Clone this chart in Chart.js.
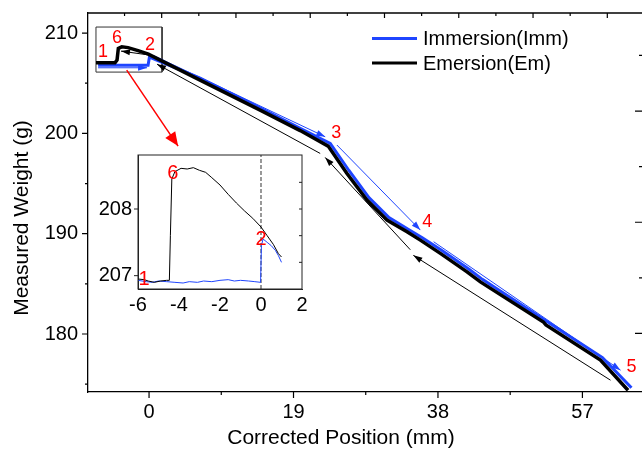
<!DOCTYPE html>
<html>
<head>
<meta charset="utf-8">
<script src="https://cdn.jsdelivr.net/npm/chart.js@4.4.1/dist/chart.umd.min.js"></script>
<style>
    html, body { margin: 0; padding: 0; background: #fff; overflow: hidden; width: 642px; height: 457px; }
    #grafico-principal { position: absolute; left: 0; top: 0; }
    #grafico-detalle { position: absolute; left: 95px; top: 145px; }
</style>
</head>
<body>
<canvas id="grafico-principal" width="660" height="457"></canvas>
<canvas id="grafico-detalle" width="220" height="172"></canvas>
<script>
// ===========================================================
// datos (posicion en mm, peso en g)
// ===========================================================

// curva de inmersion (azul), grafico principal
const inmersion_x = [-6.7, -0.13, 0.05, 6.71, 14.61, 19.88, 23.83, 26.29, 28.92, 31.56, 34.19, 35.94, 38.57, 42.09, 43.84, 52.13, 59.64, 63.45];
const inmersion_y = [206.8, 206.8, 207.6, 205.5, 202.55, 200.5, 199.0, 196.3, 193.6, 191.6, 190.4, 189.6, 188.3, 186.45, 185.45, 181.35, 177.65, 174.65];

// curva de emersion (negra), grafico principal
const emersion_x = [-6.98, -4.48, -4.21, -4.04, -3.59, -2.76, -1.45, -0.09, 6.71, 14.61, 19.88, 23.56, 26.03, 28.66, 31.29, 33.93, 35.68, 38.31, 41.82, 43.58, 51.87, 52.2, 59.37, 63.0];
const emersion_y = [207.04, 207.04, 207.31, 208.47, 208.63, 208.55, 208.25, 207.9, 205.31, 202.32, 200.28, 198.73, 196.0, 193.35, 191.36, 190.19, 189.36, 188.04, 186.2, 185.2, 181.2, 180.9, 177.4, 174.4];

// detalle (recuadro): emersion
const detalle_em_x = [-6, -5.7, -5.5, -5.2, -4.9, -4.6, -4.47, -4.42, -4.35, -4.2, -3.9, -3.6, -3.3, -3.0, -2.7, -2.4, -2.0, -1.6, -1.2, -0.8, -0.4, 0, 0.3, 0.6, 0.85, 1.0];
const detalle_em_y = [206.95, 206.94, 206.92, 206.9, 206.92, 206.93, 206.93, 207.6, 208.45, 208.56, 208.61, 208.6, 208.62, 208.58, 208.55, 208.47, 208.36, 208.22, 208.09, 207.97, 207.86, 207.73, 207.6, 207.47, 207.33, 207.28];

// detalle (recuadro): inmersion
const detalle_in_x = [-6, -5.6, -5.3, -5.0, -4.6, -4.2, -3.8, -3.5, -3.1, -2.8, -2.4, -2.0, -1.6, -1.3, -1.0, -0.6, -0.3, -0.02, 0.02, 0.1, 0.3, 0.5, 0.7, 0.85, 1.0];
const detalle_in_y = [206.93, 206.91, 206.9, 206.92, 206.91, 206.9, 206.89, 206.91, 206.9, 206.92, 206.91, 206.93, 206.94, 206.92, 206.93, 206.92, 206.91, 206.9, 207.45, 207.55, 207.5, 207.45, 207.38, 207.3, 207.2];

// flechas que indican el sentido del recorrido: [x0, y0, x1, y1]
const flechas_azules = [
    [-6.71, 206.54, -0.26, 206.54],
    [0.66, 207.74, 23.17, 199.66],
    [24.71, 198.84, 35.68, 190.36],
    [37.43, 189.2, 62.01, 176.4]
];
const flechas_negras = [
    [60.69, 175.4, 34.76, 187.84],
    [34.36, 188.4, 23.17, 197.6],
    [22.51, 198.0, 1.05, 206.9],
    [0.13, 207.8, -3.69, 208.2]
];
const flecha_roja = [-2.94, 206.31, 3.82, 198.73];

// recuadro que marca la zona ampliada: [x0, y0, x1, y1]
const zona_ampliada = [-6.98, 210.6, 1.71, 206.11];

// numeros rojos de los puntos del recorrido
const etiquetas_puntos = ['1', '6', '2', '3', '4', '5'];
const etiquetas_x = [-6.06, -4.21, 0.13, 24.62, 36.6, 63.45];
const etiquetas_y = [208.1, 209.5, 208.8, 200.0, 191.15, 176.7];

const etiquetas_detalle = ['1', '6', '2'];
const etiquetas_detalle_x = [-5.7, -4.3, 0];
const etiquetas_detalle_y = [206.94, 208.54, 207.54];

// marcas de los ejes
const ticks_x = [0, 19, 38, 57];
const ticks_y = [180, 190, 200, 210];
const ticks_detalle_x = [-6, -4, -2, 0, 2];
const ticks_detalle_y = [207, 208];

const nombres_series = ['Immersion(Imm)', 'Emersion(Em)'];

// colores
const azul = '#1f45ff';
const negro = '#000000';
const rojo = '#ff0000';
const fuente = '"Liberation Sans", Arial, sans-serif';

// -----------------------------------------------------------
// ayudas
// -----------------------------------------------------------
function puntos(xs, ys) {
    return xs.map((x, i) => ({ x: x, y: ys[i] }));
}

function serie_linea(datos, color, ancho, orden, extra) {
    return Object.assign({
        data: datos,
        borderColor: color,
        backgroundColor: color,
        borderWidth: ancho,
        pointRadius: 0,
        tension: 0,
        fill: false,
        order: orden
    }, extra || {});
}

// quita el margen que chart.js reserva para media etiqueta en los extremos
function sin_relleno(s) {
    s.paddingTop = 0;
    s.paddingBottom = 0;
    s.paddingLeft = 0;
    s.paddingRight = 0;
}

// dibuja marcas cortas sobre un eje (hacia afuera o hacia adentro)
function marcas(ctx, escala, valores, largo, base, dir, vertical) {
    ctx.beginPath();
    valores.forEach(v => {
        const p = escala.getPixelForValue(v);
        if (vertical) {
            ctx.moveTo(base, p);
            ctx.lineTo(base + dir * largo, p);
        } else {
            ctx.moveTo(p, base);
            ctx.lineTo(p, base + dir * largo);
        }
    });
    ctx.stroke();
}

// plugin: puntas de flecha al final de las series marcadas con "punta"
const plugin_flechas = {
    id: 'flechas',
    afterDatasetsDraw(chart) {
        const ctx = chart.ctx;
        chart.data.datasets.forEach((ds, i) => {
            if (!ds.punta) return;
            const pts = chart.getDatasetMeta(i).data;
            const a = pts[pts.length - 2], b = pts[pts.length - 1];
            const ang = Math.atan2(b.y - a.y, b.x - a.x);
            ctx.save();
            ctx.translate(b.x, b.y);
            ctx.rotate(ang);
            ctx.fillStyle = ds.borderColor;
            ctx.beginPath();
            ctx.moveTo(0, 0);
            ctx.lineTo(-ds.punta[0], ds.punta[1] / 2);
            ctx.lineTo(-ds.punta[0], -ds.punta[1] / 2);
            ctx.closePath();
            ctx.fill();
            ctx.restore();
        });
    }
};

// -----------------------------------------------------------
// grafico principal
// -----------------------------------------------------------
const series_principal = [
    serie_linea(puntos(emersion_x, emersion_y), negro, 3.5, 0),
    serie_linea(puntos(inmersion_x, inmersion_y), azul, 3, 1)
];
flechas_azules.forEach(f => series_principal.push(
    serie_linea([{ x: f[0], y: f[1] }, { x: f[2], y: f[3] }], azul, 1, 2, { punta: [9, 6] })));
flechas_negras.forEach(f => series_principal.push(
    serie_linea([{ x: f[0], y: f[1] }, { x: f[2], y: f[3] }], negro, 1, 2, { punta: [9, 6] })));
series_principal.push(serie_linea(
    [{ x: flecha_roja[0], y: flecha_roja[1] }, { x: flecha_roja[2], y: flecha_roja[3] }],
    rojo, 1.5, 3, { punta: [14, 12] }));
series_principal.push(serie_linea([
    { x: zona_ampliada[0], y: zona_ampliada[1] }, { x: zona_ampliada[2], y: zona_ampliada[1] },
    { x: zona_ampliada[2], y: zona_ampliada[3] }, { x: zona_ampliada[0], y: zona_ampliada[3] },
    { x: zona_ampliada[0], y: zona_ampliada[1] }], '#333', 1, 4));

const plugin_principal = {
    id: 'marco_principal',
    afterDraw(chart) {
        const ctx = chart.ctx;
        const a = chart.chartArea;
        const sx = chart.scales.x, sy = chart.scales.y;
        const sx2 = chart.scales.x2, sy2 = chart.scales.y2;
        ctx.save();
        ctx.strokeStyle = '#000';
        ctx.lineWidth = 1.3;
        // linea superior del marco
        ctx.beginPath();
        ctx.moveTo(a.left, a.top);
        ctx.lineTo(a.right, a.top);
        ctx.stroke();
        ctx.lineWidth = 1.2;
        // eje izquierdo y eje inferior: marcas hacia afuera
        marcas(ctx, sy, ticks_y, 6, a.left, -1, true);
        marcas(ctx, sy, [175, 185, 195, 205], 3, a.left, -1, true);
        marcas(ctx, sx, ticks_x, 6, a.bottom, 1, false);
        marcas(ctx, sx, [9.5, 28.5, 47.5], 3, a.bottom, 1, false);
        // eje superior y eje derecho: marcas hacia adentro
        marcas(ctx, sx2, [0, 10, 20, 30, 40, 50, 60], 5, a.top, 1, false);
        marcas(ctx, sx2, [-5, 5, 15, 25, 35, 45, 55], 3, a.top, 1, false);
        marcas(ctx, sy2, [10, 20, 30], 7, a.right - 2, -1, true);
        marcas(ctx, sy2, [15, 25, 35], 3, a.right - 2, -1, true);

        // numeros rojos
        ctx.fillStyle = rojo;
        ctx.font = '18px ' + fuente;
        ctx.textAlign = 'center';
        ctx.textBaseline = 'middle';
        etiquetas_puntos.forEach((t, i) => {
            ctx.fillText(t, sx.getPixelForValue(etiquetas_x[i]), sy.getPixelForValue(etiquetas_y[i]));
        });

        // leyenda
        ctx.font = '20px ' + fuente;
        ctx.textAlign = 'left';
        [azul, negro].forEach((c, i) => {
            const yy = 38.5 + i * 24.5;
            ctx.strokeStyle = c;
            ctx.lineWidth = 3;
            ctx.beginPath();
            ctx.moveTo(372, yy);
            ctx.lineTo(417, yy);
            ctx.stroke();
            ctx.fillStyle = '#000';
            ctx.fillText(nombres_series[i], 423, yy + 1);
        });

        // titulos de los ejes
        ctx.font = '21px ' + fuente;
        ctx.textAlign = 'center';
        ctx.fillText('Corrected Position (mm)', 341, 438);
        ctx.translate(22, 218);
        ctx.rotate(-Math.PI / 2);
        ctx.fillText('Measured Weight (g)', 0, 0);
        ctx.restore();
    }
};

new Chart(document.getElementById('grafico-principal').getContext('2d'), {
    type: 'line',
    data: { datasets: series_principal },
    options: {
        responsive: false,
        animation: false,
        layout: { padding: { top: 13, right: 16, left: 0, bottom: 0 } },
        plugins: { legend: { display: false }, tooltip: { enabled: false } },
        scales: {
            x: {
                type: 'linear', min: -8.03, max: 65.1,
                afterFit: s => { s.height = 65; sin_relleno(s); },
                afterBuildTicks: s => { s.ticks = ticks_x.map(v => ({ value: v })); },
                grid: { display: false, drawTicks: false },
                border: { display: true, color: '#000', width: 1.3 },
                ticks: { color: '#000', padding: 8, font: { size: 20, family: fuente } }
            },
            y: {
                type: 'linear', min: 174.22, max: 212.0,
                afterFit: s => { s.width = 88; sin_relleno(s); },
                afterBuildTicks: s => { s.ticks = ticks_y.map(v => ({ value: v })); },
                grid: { display: false, drawTicks: false },
                border: { display: true, color: '#000', width: 1.3 },
                ticks: { color: '#000', padding: 10, font: { size: 20, family: fuente } }
            },
            // ejes auxiliares solo para las marcas de arriba y de la derecha
            x2: { type: 'linear', position: 'top', display: false, min: -9.92, max: 64.94 },
            y2: { type: 'linear', position: 'right', display: false, min: 4.73, max: 38.82 }
        }
    },
    plugins: [plugin_flechas, plugin_principal]
});

// -----------------------------------------------------------
// grafico de detalle (recuadro ampliado)
// -----------------------------------------------------------
const plugin_detalle = {
    id: 'marco_detalle',
    afterDraw(chart) {
        const ctx = chart.ctx;
        const a = chart.chartArea;
        const sx = chart.scales.x, sy = chart.scales.y;
        ctx.save();
        ctx.strokeStyle = '#222';
        ctx.lineWidth = 1;
        ctx.strokeRect(a.left, a.top, a.right - a.left, a.bottom - a.top);
        marcas(ctx, sy, ticks_detalle_y, 4, a.left, -1, true);
        marcas(ctx, sy, [207.2, 207.6, 208.0, 208.4], 3, a.right, -1, true);
        ctx.fillStyle = rojo;
        ctx.font = '20px ' + fuente;
        ctx.textAlign = 'center';
        ctx.textBaseline = 'middle';
        etiquetas_detalle.forEach((t, i) => {
            ctx.fillText(t, sx.getPixelForValue(etiquetas_detalle_x[i]), sy.getPixelForValue(etiquetas_detalle_y[i]));
        });
        ctx.restore();
    }
};

new Chart(document.getElementById('grafico-detalle').getContext('2d'), {
    type: 'line',
    data: {
        datasets: [
            serie_linea([{ x: 0, y: 206.8 }, { x: 0, y: 208.81 }], '#555', 1.2, 2, { borderDash: [4, 2] }),
            serie_linea(puntos(detalle_em_x, detalle_em_y), negro, 1, 0),
            serie_linea(puntos(detalle_in_x, detalle_in_y), azul, 1, 1)
        ]
    },
    options: {
        responsive: false,
        animation: false,
        layout: { padding: { top: 10, right: 13, left: 0, bottom: 0 } },
        plugins: { legend: { display: false }, tooltip: { enabled: false } },
        scales: {
            x: {
                type: 'linear', min: -6, max: 2,
                afterFit: s => { s.height = 28; sin_relleno(s); },
                afterBuildTicks: s => { s.ticks = ticks_detalle_x.map(v => ({ value: v })); },
                grid: { display: false, drawTicks: false },
                border: { display: true, color: '#222', width: 1 },
                ticks: { color: '#000', padding: 4, font: { size: 20, family: fuente } }
            },
            y: {
                type: 'linear', min: 206.8, max: 208.81,
                afterFit: s => { s.width = 43; sin_relleno(s); },
                afterBuildTicks: s => { s.ticks = ticks_detalle_y.map(v => ({ value: v })); },
                grid: { display: false, drawTicks: false },
                border: { display: true, color: '#222', width: 1 },
                ticks: { color: '#000', padding: 6, font: { size: 20, family: fuente } }
            }
        }
    },
    plugins: [plugin_flechas, plugin_detalle]
});
</script>
</body>
</html>
